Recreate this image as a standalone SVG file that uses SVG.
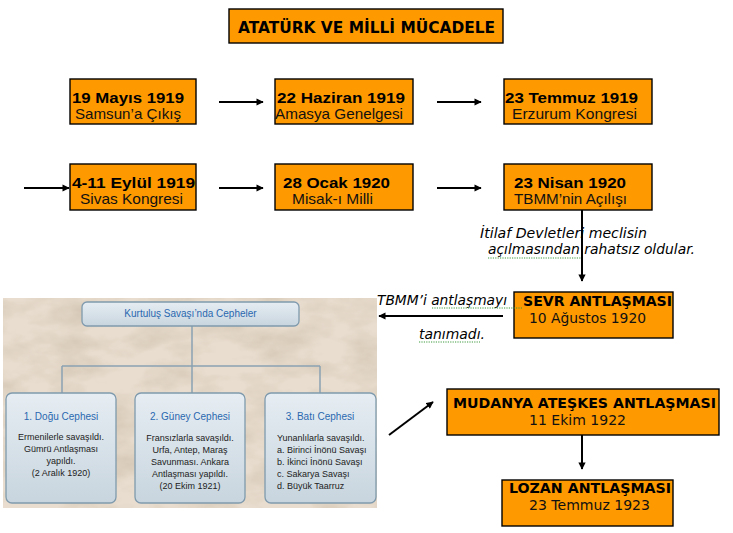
<svg xmlns="http://www.w3.org/2000/svg" width="733" height="533" viewBox="0 0 733 533">
<defs>
<style>
.box{fill:#ff9900;stroke:#000;stroke-width:1.4}
.tb{font-family:"Liberation Sans",Arial,sans-serif;font-weight:bold;font-size:14.5px;fill:#000}
.tr{font-family:"Liberation Sans",Arial,sans-serif;font-size:14.5px;fill:#111}
.vb{font-family:"DejaVu Sans",Verdana,sans-serif;font-weight:bold;font-size:14px;fill:#000}
.vr{font-family:"DejaVu Sans",Verdana,sans-serif;font-size:14px;fill:#111}
.vi{font-family:"DejaVu Sans",Verdana,sans-serif;font-style:italic;font-size:14px;fill:#000}
.arr{stroke:#000;stroke-width:2;fill:none;marker-end:url(#ah)}
.sq{stroke:#3c9a3c;stroke-width:1.2;stroke-dasharray:1.2 1.2;fill:none}
.pb{fill:url(#pg);stroke:#7f9aad;stroke-width:1.3}
.pl{stroke:#8ba2b3;stroke-width:1.5;fill:none}
.ph{font-family:"Liberation Sans",Arial,sans-serif;font-size:10px;fill:#2a68b0}
.pt{font-family:"Liberation Sans",Arial,sans-serif;font-size:9px;fill:#222}
</style>
<marker id="ah" viewBox="0 0 10 10" refX="9" refY="5" markerWidth="4" markerHeight="3.6" markerUnits="strokeWidth" orient="auto">
<path d="M0,0 L10,5 L0,10 z" fill="#000"/>
</marker>
<linearGradient id="pg" x1="0" y1="0" x2="0" y2="1">
<stop offset="0" stop-color="#e6edf3"/>
<stop offset="1" stop-color="#c8d5de"/>
</linearGradient>
<filter id="paper" x="0" y="0" width="100%" height="100%">
<feTurbulence type="fractalNoise" baseFrequency="0.02 0.04" numOctaves="4" seed="5" result="n"/>
<feColorMatrix in="n" type="matrix" values="0 0 0 0 0.6  0 0 0 0 0.5  0 0 0 0 0.38  0 0 0 1.3 -0.5" result="c"/>
<feComposite in="c" in2="SourceGraphic" operator="in" result="t"/>
<feMerge><feMergeNode in="SourceGraphic"/><feMergeNode in="t"/></feMerge>
</filter>
</defs>
<rect width="733" height="533" fill="#fff"/>

<g id="title">
<rect class="box" x="229" y="9" width="274" height="34"/>
<text x="238" y="33" font-family="DejaVu Sans,Verdana,sans-serif" font-weight="bold" font-size="15px" textLength="257" lengthAdjust="spacingAndGlyphs">ATATÜRK VE MİLLİ MÜCADELE</text>
</g>

<g id="samsun">
<rect class="box" x="70" y="79" width="126" height="45"/>
<text class="tb" x="72" y="103" textLength="112" lengthAdjust="spacingAndGlyphs">19 Mayıs 1919</text>
<text class="tr" x="75" y="119" textLength="106" lengthAdjust="spacingAndGlyphs">Samsun’a Çıkış</text>
</g>
<g id="amasya">
<rect class="box" x="275" y="79" width="138" height="45"/>
<text class="tb" x="277" y="103" textLength="128" lengthAdjust="spacingAndGlyphs">22 Haziran 1919</text>
<text class="tr" x="275" y="119" textLength="128" lengthAdjust="spacingAndGlyphs">Amasya Genelgesi</text>
</g>
<g id="erzurum">
<rect class="box" x="504" y="79" width="148" height="45"/>
<text class="tb" x="505" y="103" textLength="133" lengthAdjust="spacingAndGlyphs">23 Temmuz 1919</text>
<text class="tr" x="512" y="119" textLength="125" lengthAdjust="spacingAndGlyphs">Erzurum Kongresi</text>
</g>
<g id="sivas">
<rect class="box" x="70" y="164" width="126" height="46"/>
<text class="tb" x="72" y="188" textLength="123" lengthAdjust="spacingAndGlyphs">4-11 Eylül 1919</text>
<text class="tr" x="80" y="204" textLength="103" lengthAdjust="spacingAndGlyphs">Sivas Kongresi</text>
</g>
<g id="misak">
<rect class="box" x="275" y="164" width="138" height="46"/>
<text class="tb" x="283" y="188" textLength="107" lengthAdjust="spacingAndGlyphs">28 Ocak 1920</text>
<text class="tr" x="292" y="204" textLength="81" lengthAdjust="spacingAndGlyphs">Misak-ı Milli</text>
</g>
<g id="tbmm">
<rect class="box" x="504" y="164" width="148" height="46"/>
<text class="tb" x="514" y="188" textLength="112" lengthAdjust="spacingAndGlyphs">23 Nisan 1920</text>
<text class="tr" x="514" y="204" textLength="113" lengthAdjust="spacingAndGlyphs">TBMM’nin Açılışı</text>
</g>

<g id="note-itilaf">
<text class="vi" x="480" y="238" textLength="167" lengthAdjust="spacingAndGlyphs">İtilaf Devletleri meclisin</text>
<text class="vi" x="488" y="254" textLength="207" lengthAdjust="spacingAndGlyphs">açılmasından rahatsız oldular.</text>
<path class="sq" d="M488,258 H581"/>
</g>

<g id="sevr">
<rect class="box" x="514" y="292" width="159" height="46"/>
<text class="vb" x="523" y="306" textLength="149" lengthAdjust="spacingAndGlyphs">SEVR ANTLAŞMASI</text>
<text class="vr" x="529" y="323" textLength="117" lengthAdjust="spacingAndGlyphs">10 Ağustos 1920</text>
</g>

<g id="note-tbmm">
<text class="vi" x="377" y="305" textLength="130" lengthAdjust="spacingAndGlyphs">TBMM’i antlaşmayı</text>
<text class="vi" x="419" y="339" textLength="66" lengthAdjust="spacingAndGlyphs">tanımadı.</text>
<path class="sq" d="M432,308 H523"/>
<path class="sq" d="M419,342 H480"/>
</g>

<g id="mudanya">
<rect class="box" x="447" y="389" width="272" height="46"/>
<text class="vb" x="453" y="408" textLength="263" lengthAdjust="spacingAndGlyphs">MUDANYA ATEŞKES ANTLAŞMASI</text>
<text class="vr" x="529" y="425" textLength="97" lengthAdjust="spacingAndGlyphs">11 Ekim 1922</text>
</g>
<g id="lozan">
<rect class="box" x="502" y="480" width="171" height="46"/>
<text class="vb" x="509" y="493" textLength="162" lengthAdjust="spacingAndGlyphs">LOZAN ANTLAŞMASI</text>
<text class="vr" x="529" y="510" textLength="121" lengthAdjust="spacingAndGlyphs">23 Temmuz 1923</text>
</g>

<g id="cepheler-panel">
<rect x="3" y="298" width="374" height="210" fill="#e8ddcf" filter="url(#paper)"/>
<g id="cep-lines">
<path class="pl" d="M192,326 V366 M62,366 H320 M62,366 V393 M192,366 V393 M320,366 V393"/>
</g>
<g id="cep-header">
<rect class="pb" x="82" y="302" width="217" height="24" rx="5"/>
<text class="ph" x="190.5" y="317" text-anchor="middle">Kurtuluş Savaşı’nda Cepheler</text>
</g>
<g id="cep-dogu">
<rect class="pb" x="6" y="393" width="110" height="110" rx="6"/>
<text class="ph" x="61" y="420" text-anchor="middle">1. Doğu Cephesi</text>
<text class="pt" text-anchor="middle"><tspan x="61" y="440">Ermenilerle savaşıldı.</tspan><tspan x="61" y="452">Gümrü Antlaşması</tspan><tspan x="61" y="464">yapıldı.</tspan><tspan x="61" y="476">(2 Aralık 1920)</tspan></text>
</g>
<g id="cep-guney">
<rect class="pb" x="135" y="393" width="110" height="110" rx="6"/>
<text class="ph" x="190" y="420" text-anchor="middle">2. Güney Cephesi</text>
<text class="pt" text-anchor="middle"><tspan x="190" y="441">Fransızlarla savaşıldı.</tspan><tspan x="190" y="453">Urfa, Antep, Maraş</tspan><tspan x="190" y="465">Savunması. Ankara</tspan><tspan x="190" y="477">Antlaşması yapıldı.</tspan><tspan x="190" y="489">(20 Ekim 1921)</tspan></text>
</g>
<g id="cep-bati">
<rect class="pb" x="265" y="393" width="111" height="110" rx="6"/>
<text class="ph" x="320" y="420" text-anchor="middle">3. Batı Cephesi</text>
<text class="pt"><tspan x="277" y="441">Yunanlılarla savaşıldı.</tspan><tspan x="277" y="453">a. Birinci İnönü Savaşı</tspan><tspan x="277" y="465">b. İkinci İnönü Savaşı</tspan><tspan x="277" y="477">c. Sakarya Savaşı</tspan><tspan x="277" y="489">d. Büyük Taarruz</tspan></text>
</g>
</g>

<g id="connectors">
<line class="arr" x1="219" y1="102" x2="263" y2="102"/>
<line class="arr" x1="437" y1="102" x2="481" y2="102"/>
<line class="arr" x1="24" y1="188" x2="69" y2="188"/>
<line class="arr" x1="219" y1="188" x2="263" y2="188"/>
<line class="arr" x1="437" y1="188" x2="481" y2="188"/>
<line class="arr" x1="582" y1="210" x2="582" y2="281"/>
<line class="arr" x1="503" y1="316" x2="379" y2="316"/>
<line class="arr" x1="389" y1="435" x2="433" y2="402"/>
<line class="arr" x1="582" y1="435" x2="582" y2="469"/>
</g>
</svg>
